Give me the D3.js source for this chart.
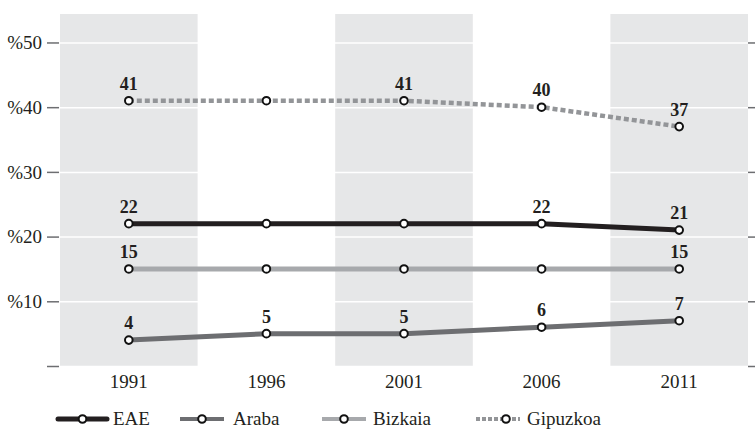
<!DOCTYPE html>
<html>
<head>
<meta charset="utf-8">
<script src="https://cdn.jsdelivr.net/npm/d3@7"></script>
<style>
  body { margin: 0; background: #fff; }
  text { font-family: "Liberation Serif", serif; }
</style>
</head>
<body>
<div id="chart"></div>
<script>
// Data
let years = ["1991", "1996", "2001", "2006", "2011"];
let seriesNames = ["EAE", "Araba", "Bizkaia", "Gipuzkoa"];
let eae = [22, 22, 22, 22, 21];
let araba = [4, 5, 5, 6, 7];
let bizkaia = [15, 15, 15, 15, 15];
let gipuzkoa = [41, 41, 41, 40, 37];
// which points carry a value label
let eaeLabels = [true, false, false, true, true];
let arabaLabels = [true, true, true, true, true];
let bizkaiaLabels = [true, false, false, false, true];
let gipuzkoaLabels = [true, false, true, true, true];
let yTicks = [0, 10, 20, 30, 40, 50];

let W = 755, H = 429;
let margin = { top: 14, right: 7, bottom: 63, left: 60 };

let svg = d3.select("#chart").append("svg")
  .attr("width", W).attr("height", H);

let x = d3.scaleBand().domain(years)
  .range([margin.left, W - margin.right]).paddingInner(0).paddingOuter(0);
let y = d3.scaleLinear().domain([0, 54.4])
  .range([H - margin.bottom, margin.top]);

// grey bands on every other year
svg.append("g").selectAll("rect")
  .data(years.filter((d, i) => i % 2 === 0))
  .enter().append("rect")
  .attr("x", d => x(d))
  .attr("width", x.bandwidth())
  .attr("y", margin.top)
  .attr("height", y(0) - margin.top)
  .attr("fill", "#e6e7e8");

// white gridlines
svg.append("g")
  .attr("transform", `translate(${margin.left},0)`)
  .call(d3.axisLeft(y).tickValues(yTicks).tickSize(-(W - margin.left - margin.right)).tickFormat(""))
  .call(g => g.select(".domain").remove())
  .call(g => g.selectAll("line").attr("stroke", "#fff").attr("stroke-width", 1.5));

// left axis
let yAxis = svg.append("g")
  .attr("transform", `translate(${margin.left - 1},0)`)
  .call(d3.axisLeft(y).tickValues(yTicks).tickSize(12).tickPadding(5)
    .tickFormat(d => d === 0 ? "" : "%" + d));
yAxis.select(".domain").remove();
yAxis.selectAll(".tick line").attr("stroke", "#6d6e71").attr("stroke-width", 1.5);
yAxis.selectAll(".tick text")
  .attr("font-family", "Liberation Serif")
  .style("font-size", "19px")
  .style("fill", "#231f20")
  .attr("dy", "0.33em");

// right axis ticks
let yRight = svg.append("g")
  .attr("transform", `translate(${W - margin.right},0)`)
  .call(d3.axisRight(y).tickValues(yTicks).tickSize(8).tickFormat(""));
yRight.select(".domain").remove();
yRight.selectAll(".tick line").attr("stroke", "#6d6e71").attr("stroke-width", 1.5);

// x axis labels
let xAxis = svg.append("g")
  .attr("transform", `translate(0,${y(0)})`)
  .call(d3.axisBottom(x).tickSize(0).tickPadding(9));
xAxis.select(".domain").remove();
xAxis.selectAll(".tick text")
  .style("font-size", "19px")
  .style("fill", "#231f20");

let series = [
  { name: seriesNames[0], values: eae, labels: eaeLabels, color: "#231f20", width: 5, dash: null },
  { name: seriesNames[1], values: araba, labels: arabaLabels, color: "#6d6e71", width: 5, dash: null },
  { name: seriesNames[2], values: bizkaia, labels: bizkaiaLabels, color: "#a7a9ac", width: 5, dash: null },
  { name: seriesNames[3], values: gipuzkoa, labels: gipuzkoaLabels, color: "#939598", width: 4.5, dash: "5,3" },
];

let cx = (i) => x(years[i]) + x.bandwidth() / 2;

let line = d3.line()
  .x((d, i) => cx(i))
  .y(d => y(d));

// draw bottom-most series first
let drawOrder = [series[2], series[1], series[0], series[3]];

drawOrder.forEach(s => {
  svg.append("path")
    .datum(s.values)
    .attr("d", line)
    .attr("fill", "none")
    .attr("stroke", s.color)
    .attr("stroke-width", s.width)
    .attr("stroke-dasharray", s.dash);
});

drawOrder.forEach(s => {
  svg.append("g").selectAll("circle")
    .data(s.values)
    .enter().append("circle")
    .attr("cx", (d, i) => cx(i))
    .attr("cy", d => y(d))
    .attr("r", 3.8)
    .attr("fill", "#fff")
    .attr("stroke", "#111")
    .attr("stroke-width", 2);

  svg.append("g").selectAll("text")
    .data(s.values.map((v, i) => ({ v, i })).filter(d => s.labels[d.i]))
    .enter().append("text")
    .attr("x", d => cx(d.i))
    .attr("y", d => y(d.v) - 11)
    .attr("text-anchor", "middle")
    .style("font-size", "18px")
    .style("font-weight", "bold")
    .style("fill", "#231f20")
    .text(d => d.v);
});

// legend
let legendPos = [
  { x1: 58, x2: 107, tx: 113 },
  { x1: 180, x2: 224, tx: 233 },
  { x1: 322, x2: 366, tx: 373 },
  { x1: 476, x2: 520, tx: 527 },
];
let ly = 419;
series.forEach((s, i) => {
  let p = legendPos[i];
  let g = svg.append("g");
  g.append("line")
    .attr("x1", p.x1).attr("x2", p.x2)
    .attr("y1", ly).attr("y2", ly)
    .attr("stroke", s.color)
    .attr("stroke-width", i === 0 ? 5 : 4)
    .attr("stroke-linecap", i === 0 ? "round" : "butt")
    .attr("stroke-dasharray", s.dash ? "4,2" : null);
  g.append("circle")
    .attr("cx", (p.x1 + p.x2) / 2 + (i === 3 ? 8 : 0))
    .attr("cy", ly)
    .attr("r", 3.8)
    .attr("fill", "#fff")
    .attr("stroke", "#111")
    .attr("stroke-width", 2);
  g.append("text")
    .attr("x", p.tx)
    .attr("y", ly + 6)
    .style("font-size", "19px")
    .style("fill", "#231f20")
    .text(s.name);
});
</script>
</body>
</html>
